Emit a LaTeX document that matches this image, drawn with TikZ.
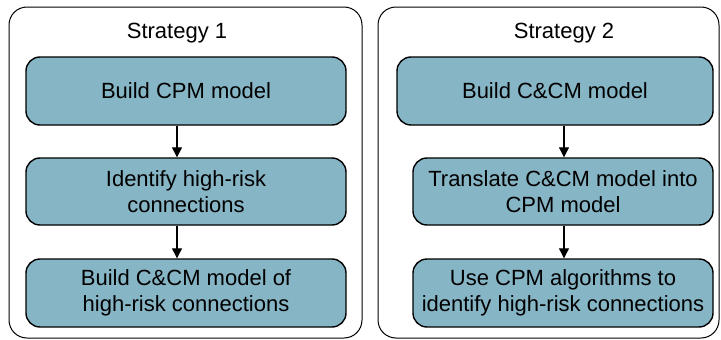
\documentclass[tikz,border=0pt]{standalone}
\usepackage{fontspec}
\setmainfont{Liberation Sans}
\usetikzlibrary{arrows.meta}
\definecolor{boxfill}{RGB}{134,181,197}
\begin{document}
\begin{tikzpicture}[x=1pt,y=-1pt,
  container/.style={draw=black, line width=1pt, rounded corners=18pt},
  stepbox/.style={draw=black, line width=1.4pt, fill=boxfill, rounded corners=14pt,
    align=center, font=\fontsize{22}{26}\selectfont, inner sep=0pt},
  title/.style={font=\fontsize{22}{26}\selectfont},
  conn/.style={-{Triangle[length=10pt,width=10pt]}, line width=1.2pt}]
\useasboundingbox (0,0) rectangle (721,340);
\draw[container] (9,7) rectangle (362,338);
\draw[container] (378,7) rectangle (719,338);
\node[title] (t1) at (177,33) {Strategy 1};
\node[title] (t2) at (564,33) {Strategy 2};
% left
\node[stepbox, minimum width=320pt, minimum height=68pt] (a1) at (186,91) {Build CPM model};
\node[stepbox, minimum width=320pt, minimum height=67pt] (a2) at (186,191.5) {Identify high-risk\\connections};
\node[stepbox, minimum width=320pt, minimum height=68pt] (a3) at (186,293) {Build C\&CM model of\\high-risk connections};
% right
\node[stepbox, minimum width=316pt, minimum height=68pt] (b1) at (555,91) {Build C\&CM model};
\node[stepbox, minimum width=300pt, minimum height=67pt] (b2) at (563,191.5) {Translate C\&CM model into\\CPM model};
\node[stepbox, minimum width=300pt, minimum height=68pt] (b3) at (563,293) {Use CPM algorithms to\\identify high-risk connections};
\draw[conn] (a1.south -| t1) -- (a2.north -| t1);
\draw[conn] (a2.south -| t1) -- (a3.north -| t1);
\draw[conn] (b1.south -| t2) -- (b2.north -| t2);
\draw[conn] (b2.south -| t2) -- (b3.north -| t2);
\end{tikzpicture}
\end{document}
